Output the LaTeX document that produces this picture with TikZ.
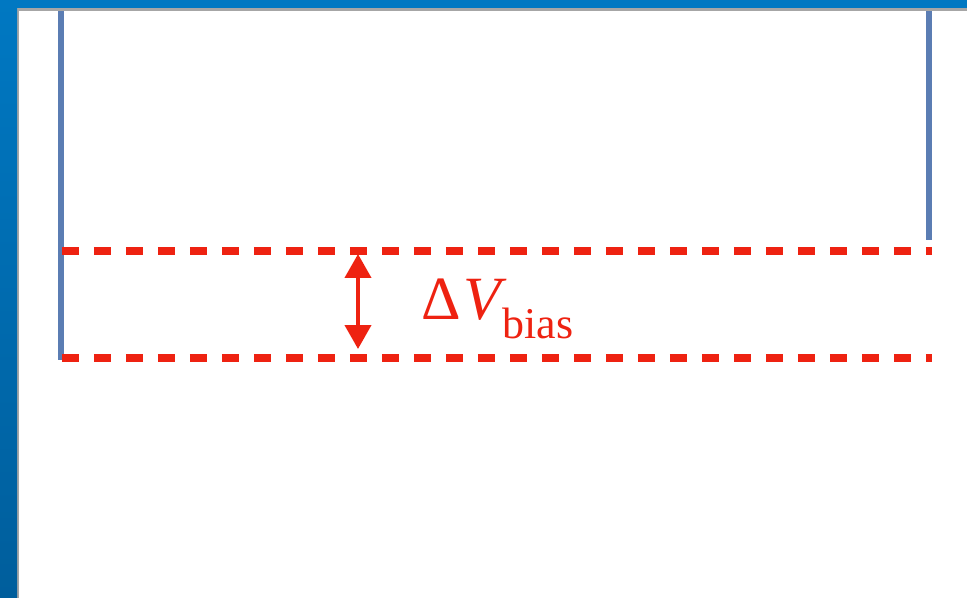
\documentclass[tikz,border=0pt]{standalone}
\usepackage{fontspec}
\setmainfont{Liberation Serif}
\usetikzlibrary{arrows.meta,positioning}
\definecolor{slideblue}{HTML}{0078C2}
\definecolor{slidebluedark}{HTML}{005E9C}
\definecolor{wallblue}{HTML}{5B7DB3}
\definecolor{biasred}{HTML}{EE2211}
\begin{document}
\begin{tikzpicture}[x=0.02cm,y=-0.02cm,
  wall/.style={wallblue,line width=3.4pt},
  level/.style={biasred,line width=4.2pt,dash pattern=on 0.34cm off 0.30cm},
  gap/.style={biasred,line width=2.4pt,
    {Triangle[width=0.52cm,length=0.48cm]}-{Triangle[width=0.52cm,length=0.48cm]}}]
  \useasboundingbox (0,0) rectangle (967,598);
  % walls
  \coordinate (lefttop) at (61,0);
  \coordinate (leftbot) at (61,360);
  \coordinate (righttop) at (929,0);
  \coordinate (rightbot) at (929,240);
  \draw[wall] (lefttop) -- (leftbot);
  \draw[wall] (righttop) -- (rightbot);
  % bias levels
  \coordinate (upperstart) at (62,251);
  \coordinate (upperend) at (932,251);
  \coordinate (lowerstart) at (62,358);
  \coordinate (lowerend) at (932,358);
  \draw[level] (upperstart) -- (upperend);
  \draw[level] (lowerstart) -- (lowerend);
  \coordinate (gaptop) at (358,254);
  \coordinate (gapbot) at (358,349);
  \draw[gap] (gaptop) -- (gapbot);
  \node[biasred, anchor=base west, inner sep=0pt, font=\fontsize{35}{40}\selectfont]
    (biaslabel) at (421,319)
    {Δ\kern0.05em\textit{V}\kern-0.08em\raisebox{-0.32em}{\fontsize{25}{28}\selectfont bias}};
  % slide frame
  \fill[gray!70] (16,8) rectangle (967,11);
  \fill[gray!70] (16,8) rectangle (19,598);
  \fill[slideblue] (0,0) rectangle (967,8);
  \shade[top color=slideblue, bottom color=slidebluedark] (0,0) rectangle (17,598);
\end{tikzpicture}
\end{document}
